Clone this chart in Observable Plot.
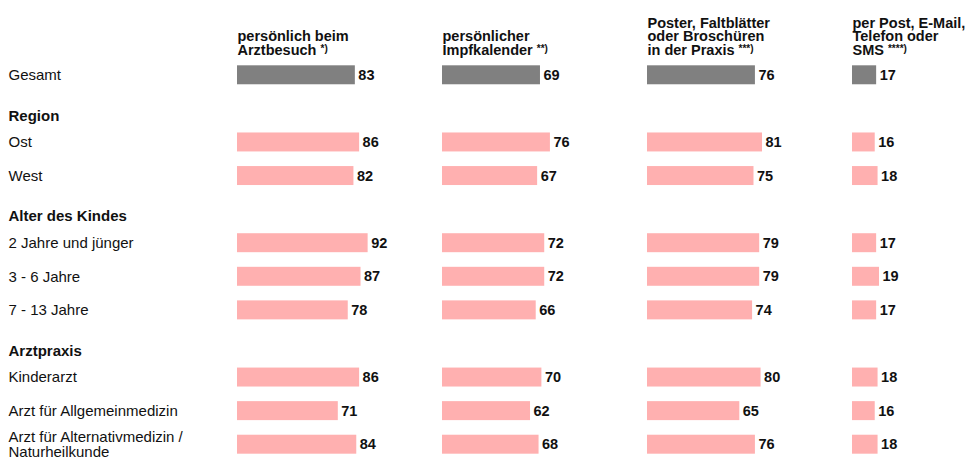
<!DOCTYPE html>
<html><head><meta charset="utf-8">
<script src="https://cdn.jsdelivr.net/npm/d3@7"></script>
<script src="https://cdn.jsdelivr.net/npm/@observablehq/plot@0.6"></script>
<style>body{margin:0;background:#fff;}</style>
</head><body><div id="chart"></div>
<script>
const rows = ["Gesamt", "Region", "Ost", "West", "Alter des Kindes", "2 Jahre und jünger", "3 - 6 Jahre", "7 - 13 Jahre", "Arztpraxis", "Kinderarzt", "Arzt für Allgemeinmedizin", "Arzt für Alternativmedizin /\nNaturheilkunde"];
const headerRows = ["Region", "Alter des Kindes", "Arztpraxis"];
const dataRows = rows.filter(r => !headerRows.includes(r));
const columns = ["persönlich beim\nArztbesuch *)", "persönlicher\nImpfkalender **)", "Poster, Faltblätter\noder Broschüren\nin der Praxis ***)", "per Post, E-Mail,\nTelefon oder\nSMS ****)"];
const persoenlich = [83, 86, 82, 92, 87, 78, 86, 71, 84];
const impfkalender = [69, 76, 67, 72, 72, 66, 70, 62, 68];
const poster = [76, 81, 75, 79, 79, 74, 80, 65, 76];
const postMail = [17, 16, 18, 17, 19, 17, 18, 16, 18];
const series = [persoenlich, impfkalender, poster, postMail];

const records = [];
columns.forEach((c, j) => dataRows.forEach((r, i) => records.push({column: c, row: r, value: series[j][i]})));
const total = records.filter(d => d.row === "Gesamt");
const groups = records.filter(d => d.row !== "Gesamt");

const chart = Plot.plot({
  width: 969, height: 459,
  marginLeft: 237, marginRight: 46, marginTop: 58, marginBottom: -2,
  style: {fontFamily: "'Liberation Sans', Arial, sans-serif", background: "#fff", color: "#111"},
  fx: {domain: columns, paddingInner: 0.6537, paddingOuter: 0, round: false, axis: null, label: null},
  x: {domain: [0, 50], axis: null},
  y: {domain: rows, paddingInner: 0.435, paddingOuter: 0.2175, round: false, axis: null},
  marks: [
    Plot.barX(total, {fx: "column", y: "row", x: "value", fill: "#808080"}),
    Plot.barX(groups, {fx: "column", y: "row", x: "value", fill: "#ffb0b0"}),
    Plot.text(records, {fx: "column", y: "row", x: "value", text: d => String(d.value), textAnchor: "start", dx: 3, fontWeight: "bold", fontSize: 14.5, fill: "#111"}),
    Plot.text(columns, {fx: d => d, text: d => d, frameAnchor: "top-left", textAnchor: "start", lineAnchor: "bottom", dy: -4, fontWeight: "bold", fontSize: 14.5, lineHeight: 0.93, fill: "#111"}),
    Plot.text(dataRows, {fx: () => columns[0], y: d => d, text: d => d, frameAnchor: "left", textAnchor: "start", dx: -229, fontSize: 15, fill: "#111"}),
    Plot.text(headerRows, {fx: () => columns[0], y: d => d, text: d => d, frameAnchor: "left", textAnchor: "start", dx: -229, dy: 7, fontSize: 15, fontWeight: "bold", fill: "#111"})
  ]
});

d3.select(chart).selectAll("tspan").each(function() {
  const m = this.textContent.match(/^(.*\S)\s(\*+\))$/);
  if (m) {
    this.textContent = m[1] + " ";
    const t = document.createElementNS("http://www.w3.org/2000/svg", "tspan");
    t.setAttribute("font-size", "10");
    t.setAttribute("dy", "-3");
    t.textContent = m[2];
    this.appendChild(t);
  }
});
document.getElementById("chart").appendChild(chart);
</script>
</body></html>
